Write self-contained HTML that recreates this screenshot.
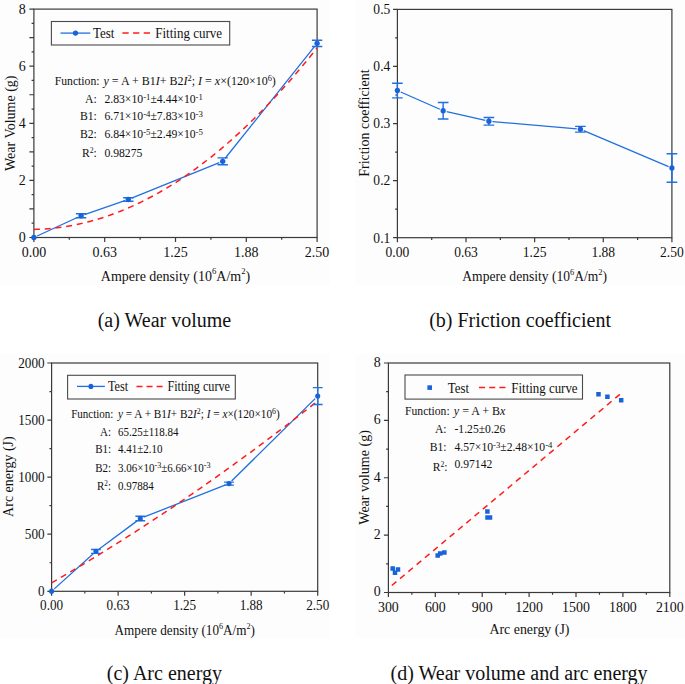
<!DOCTYPE html>
<html><head><meta charset="utf-8"><style>
html,body{margin:0;padding:0;background:#fff;}
body{width:685px;height:684px;overflow:hidden;}
svg{display:block;}
</style></head><body>
<svg width="685" height="684" viewBox="0 0 685 684" font-family="'Liberation Serif', serif" fill="#111">
<rect width="685" height="684" fill="#fff"/>
<path fill="#fdfdfd" d="M0,0H330V284.7H0Z M354.8,0H685V284.7H354.8Z M0,354H330V637.8H0Z M354.8,354H685V637.8H354.8Z"/>
<path d="M33.90,237.50v4.5 M69.30,237.50v2.3 M104.70,237.50v4.5 M140.10,237.50v2.3 M175.50,237.50v4.5 M210.90,237.50v2.3 M246.30,237.50v4.5 M281.70,237.50v2.3 M317.10,237.50v4.5 M33.90,237.50h-4.50 M33.90,223.22h-2.30 M33.90,208.95h-4.50 M33.90,194.68h-2.30 M33.90,180.40h-4.50 M33.90,166.12h-2.30 M33.90,151.85h-4.50 M33.90,137.57h-2.30 M33.90,123.30h-4.50 M33.90,109.03h-2.30 M33.90,94.75h-4.50 M33.90,80.47h-2.30 M33.90,66.20h-4.50 M33.90,51.92h-2.30 M33.90,37.65h-4.50 M33.90,23.38h-2.30 M33.90,9.10h-4.50" stroke="#3a3a3a" stroke-width="1.2" fill="none"/>
<rect x="33.90" y="9.10" width="283.20" height="228.40" stroke="#3a3a3a" stroke-width="1.2" fill="none"/>
<text transform="translate(33.9,256.5)" font-size="14" text-anchor="middle" ><tspan>0.00</tspan></text>
<text transform="translate(104.7,256.5)" font-size="14" text-anchor="middle" ><tspan>0.63</tspan></text>
<text transform="translate(175.5,256.5)" font-size="14" text-anchor="middle" ><tspan>1.25</tspan></text>
<text transform="translate(246.3,256.5)" font-size="14" text-anchor="middle" ><tspan>1.88</tspan></text>
<text transform="translate(317.1,256.5)" font-size="14" text-anchor="middle" ><tspan>2.50</tspan></text>
<text transform="translate(25.7,242.3)" font-size="14" text-anchor="end" ><tspan>0</tspan></text>
<text transform="translate(25.7,185.2)" font-size="14" text-anchor="end" ><tspan>2</tspan></text>
<text transform="translate(25.7,128.1)" font-size="14" text-anchor="end" ><tspan>4</tspan></text>
<text transform="translate(25.7,71)" font-size="14" text-anchor="end" ><tspan>6</tspan></text>
<text transform="translate(25.7,13.9)" font-size="14" text-anchor="end" ><tspan>8</tspan></text>
<path d="M37.17,235.99L77.83,217.25 M84.51,214.58L124.89,200.70 M131.64,198.18L219.36,162.68 M224.95,158.52L314.85,46.17" stroke="#2070e0" stroke-width="1.3" fill="none"/>
<polyline points="33.90,229.42 36.73,229.35 39.56,229.24 42.40,229.09 45.23,228.91 48.06,228.69 50.89,228.44 53.72,228.16 56.56,227.84 59.39,227.48 62.22,227.09 65.05,226.66 67.88,226.20 70.72,225.70 73.55,225.17 76.38,224.60 79.21,224.00 82.04,223.36 84.88,222.69 87.71,221.98 90.54,221.24 93.37,220.46 96.20,219.65 99.04,218.80 101.87,217.92 104.70,217.00 107.53,216.05 110.36,215.06 113.20,214.03 116.03,212.97 118.86,211.88 121.69,210.75 124.52,209.58 127.36,208.38 130.19,207.15 133.02,205.88 135.85,204.57 138.68,203.23 141.52,201.86 144.35,200.45 147.18,199.00 150.01,197.52 152.84,196.00 155.68,194.45 158.51,192.87 161.34,191.24 164.17,189.59 167.00,187.90 169.84,186.17 172.67,184.41 175.50,182.61 178.33,180.78 181.16,178.91 184.00,177.01 186.83,175.07 189.66,173.09 192.49,171.09 195.32,169.04 198.16,166.96 200.99,164.85 203.82,162.70 206.65,160.52 209.48,158.30 212.32,156.04 215.15,153.75 217.98,151.43 220.81,149.07 223.64,146.67 226.48,144.24 229.31,141.78 232.14,139.28 234.97,136.74 237.80,134.17 240.64,131.57 243.47,128.92 246.30,126.25 249.13,123.54 251.96,120.79 254.80,118.01 257.63,115.19 260.46,112.34 263.29,109.45 266.12,106.53 268.96,103.57 271.79,100.58 274.62,97.55 277.45,94.49 280.28,91.39 283.12,88.26 285.95,85.09 288.78,81.89 291.61,78.65 294.44,75.37 297.28,72.07 300.11,68.72 302.94,65.34 305.77,61.93 308.60,58.48 311.44,54.99 314.27,51.47 317.10,47.92" stroke="#ff1c1c" stroke-width="1.5" fill="none" stroke-dasharray="6,4.8"/>
<path d="M81.10,213.75V217.74M75.90,213.75h10.40M75.90,217.74h10.40 M128.30,197.82V201.24M123.10,197.82h10.40M123.10,201.24h10.40 M222.70,157.90V164.75M217.50,157.90h10.40M217.50,164.75h10.40 M317.10,40.22V46.50M311.90,40.22h10.40M311.90,46.50h10.40" stroke="#2070e0" stroke-width="1.4" fill="none"/>
<ellipse cx="33.90" cy="237.50" rx="2.70" ry="2.70" fill="#1a62d9"/>
<ellipse cx="81.10" cy="215.74" rx="2.70" ry="2.70" fill="#1a62d9"/>
<ellipse cx="128.30" cy="199.53" rx="2.70" ry="2.70" fill="#1a62d9"/>
<ellipse cx="222.70" cy="161.33" rx="2.70" ry="2.70" fill="#1a62d9"/>
<ellipse cx="317.10" cy="43.36" rx="2.70" ry="2.70" fill="#1a62d9"/>
<path d="M397.40,237.70v4.5 M431.71,237.70v2.3 M466.02,237.70v4.5 M500.34,237.70v2.3 M534.65,237.70v4.5 M568.96,237.70v2.3 M603.27,237.70v4.5 M637.59,237.70v2.3 M671.90,237.70v4.5 M397.40,237.70h-4.36 M397.40,209.16h-2.23 M397.40,180.62h-4.36 M397.40,152.09h-2.23 M397.40,123.55h-4.36 M397.40,95.01h-2.23 M397.40,66.47h-4.36 M397.40,37.94h-2.23 M397.40,9.40h-4.36" stroke="#3a3a3a" stroke-width="1.2" fill="none"/>
<rect x="397.40" y="9.40" width="274.50" height="228.30" stroke="#3a3a3a" stroke-width="1.2" fill="none"/>
<text transform="translate(397.4,256.7) scale(0.9693,1)" font-size="14" text-anchor="middle" ><tspan>0.00</tspan></text>
<text transform="translate(466.02,256.7) scale(0.9693,1)" font-size="14" text-anchor="middle" ><tspan>0.63</tspan></text>
<text transform="translate(534.65,256.7) scale(0.9693,1)" font-size="14" text-anchor="middle" ><tspan>1.25</tspan></text>
<text transform="translate(603.27,256.7) scale(0.9693,1)" font-size="14" text-anchor="middle" ><tspan>1.88</tspan></text>
<text transform="translate(671.9,256.7) scale(0.9693,1)" font-size="14" text-anchor="middle" ><tspan>2.50</tspan></text>
<text transform="translate(390.32,242.5) scale(0.9693,1)" font-size="14" text-anchor="end" ><tspan>0.1</tspan></text>
<text transform="translate(390.32,185.43) scale(0.9693,1)" font-size="14" text-anchor="end" ><tspan>0.2</tspan></text>
<text transform="translate(390.32,128.35) scale(0.9693,1)" font-size="14" text-anchor="end" ><tspan>0.3</tspan></text>
<text transform="translate(390.32,71.27) scale(0.9693,1)" font-size="14" text-anchor="end" ><tspan>0.4</tspan></text>
<text transform="translate(390.32,14.2) scale(0.9693,1)" font-size="14" text-anchor="end" ><tspan>0.5</tspan></text>
<path d="M397.40,83.26V97.87M392.07,83.26h10.66M392.07,97.87h10.66 M443.15,102.43V118.98M437.82,102.43h10.66M437.82,118.98h10.66 M488.90,117.44V125.09M483.57,117.44h10.66M483.57,125.09h10.66 M580.40,126.40V132.11M575.07,126.40h10.66M575.07,132.11h10.66 M671.90,153.74V182.28M666.57,153.74h10.66M666.57,182.28h10.66" stroke="#2070e0" stroke-width="1.4" fill="none"/>
<path d="M400.69,92.01L439.86,109.26 M446.66,111.52L485.39,120.46 M492.49,121.58L576.81,128.94 M583.72,130.66L668.59,166.61" stroke="#2070e0" stroke-width="1.3" fill="none"/>
<ellipse cx="397.40" cy="90.56" rx="2.62" ry="2.70" fill="#1a62d9"/>
<ellipse cx="443.15" cy="110.71" rx="2.62" ry="2.70" fill="#1a62d9"/>
<ellipse cx="488.90" cy="121.27" rx="2.62" ry="2.70" fill="#1a62d9"/>
<ellipse cx="580.40" cy="129.26" rx="2.62" ry="2.70" fill="#1a62d9"/>
<ellipse cx="671.90" cy="168.01" rx="2.62" ry="2.70" fill="#1a62d9"/>
<path d="M51.60,591.30v4.5 M84.86,591.30v2.3 M118.12,591.30v4.5 M151.39,591.30v2.3 M184.65,591.30v4.5 M217.91,591.30v2.3 M251.17,591.30v4.5 M284.44,591.30v2.3 M317.70,591.30v4.5 M51.60,591.30h-4.23 M51.60,562.76h-2.16 M51.60,534.22h-4.23 M51.60,505.69h-2.16 M51.60,477.15h-4.23 M51.60,448.61h-2.16 M51.60,420.07h-4.23 M51.60,391.54h-2.16 M51.60,363.00h-4.23" stroke="#3a3a3a" stroke-width="1.2" fill="none"/>
<rect x="51.60" y="363.00" width="266.10" height="228.30" stroke="#3a3a3a" stroke-width="1.2" fill="none"/>
<text transform="translate(51.6,610.3) scale(0.9396,1)" font-size="14" text-anchor="middle" ><tspan>0.00</tspan></text>
<text transform="translate(118.12,610.3) scale(0.9396,1)" font-size="14" text-anchor="middle" ><tspan>0.63</tspan></text>
<text transform="translate(184.65,610.3) scale(0.9396,1)" font-size="14" text-anchor="middle" ><tspan>1.25</tspan></text>
<text transform="translate(251.17,610.3) scale(0.9396,1)" font-size="14" text-anchor="middle" ><tspan>1.88</tspan></text>
<text transform="translate(317.7,610.3) scale(0.9396,1)" font-size="14" text-anchor="middle" ><tspan>2.50</tspan></text>
<text transform="translate(44.55,596.1) scale(0.9396,1)" font-size="14" text-anchor="end" ><tspan>0</tspan></text>
<text transform="translate(44.55,539.02) scale(0.9396,1)" font-size="14" text-anchor="end" ><tspan>500</tspan></text>
<text transform="translate(44.55,481.95) scale(0.9396,1)" font-size="14" text-anchor="end" ><tspan>1000</tspan></text>
<text transform="translate(44.55,424.88) scale(0.9396,1)" font-size="14" text-anchor="end" ><tspan>1500</tspan></text>
<text transform="translate(44.55,367.8) scale(0.9396,1)" font-size="14" text-anchor="end" ><tspan>2000</tspan></text>
<path d="M54.28,588.89L93.27,553.81 M98.84,549.26L137.41,520.64 M143.65,517.18L225.65,484.92 M231.56,481.07L315.14,398.63" stroke="#2070e0" stroke-width="1.3" fill="none"/>
<polyline points="51.60,582.86 54.26,581.32 56.92,579.78 59.58,578.23 62.24,576.67 64.91,575.11 67.57,573.55 70.23,571.98 72.89,570.40 75.55,568.82 78.21,567.23 80.87,565.64 83.53,564.04 86.19,562.43 88.85,560.82 91.51,559.20 94.18,557.58 96.84,555.95 99.50,554.32 102.16,552.68 104.82,551.04 107.48,549.39 110.14,547.73 112.80,546.07 115.46,544.40 118.12,542.73 120.79,541.05 123.45,539.36 126.11,537.67 128.77,535.98 131.43,534.27 134.09,532.57 136.75,530.85 139.41,529.13 142.07,527.41 144.73,525.68 147.40,523.94 150.06,522.20 152.72,520.45 155.38,518.70 158.04,516.94 160.70,515.18 163.36,513.41 166.02,511.63 168.68,509.85 171.34,508.06 174.01,506.27 176.67,504.47 179.33,502.67 181.99,500.86 184.65,499.04 187.31,497.22 189.97,495.39 192.63,493.56 195.29,491.72 197.95,489.88 200.62,488.03 203.28,486.17 205.94,484.31 208.60,482.44 211.26,480.57 213.92,478.69 216.58,476.81 219.24,474.92 221.90,473.02 224.56,471.12 227.23,469.22 229.89,467.30 232.55,465.38 235.21,463.46 237.87,461.53 240.53,459.60 243.19,457.66 245.85,455.71 248.51,453.76 251.17,451.80 253.84,449.83 256.50,447.87 259.16,445.89 261.82,443.91 264.48,441.92 267.14,439.93 269.80,437.93 272.46,435.93 275.12,433.92 277.78,431.91 280.45,429.89 283.11,427.86 285.77,425.83 288.43,423.79 291.09,421.75 293.75,419.70 296.41,417.64 299.07,415.58 301.73,413.52 304.39,411.44 307.06,409.37 309.72,407.28 312.38,405.19 315.04,403.10 317.70,401.00" stroke="#ff1c1c" stroke-width="1.5" fill="none" stroke-dasharray="6,4.8"/>
<path d="M95.95,549.46V553.35M91.06,549.46h9.77M91.06,553.35h9.77 M140.30,516.21V520.78M135.41,516.21h9.77M135.41,520.78h9.77 M229.00,482.12V485.08M224.11,482.12h9.77M224.11,485.08h9.77 M317.70,387.66V404.55M312.81,387.66h9.77M312.81,404.55h9.77" stroke="#2070e0" stroke-width="1.4" fill="none"/>
<ellipse cx="51.60" cy="591.30" rx="2.54" ry="2.70" fill="#1a62d9"/>
<ellipse cx="95.95" cy="551.40" rx="2.54" ry="2.70" fill="#1a62d9"/>
<ellipse cx="140.30" cy="518.50" rx="2.54" ry="2.70" fill="#1a62d9"/>
<ellipse cx="229.00" cy="483.60" rx="2.54" ry="2.70" fill="#1a62d9"/>
<ellipse cx="317.70" cy="396.10" rx="2.54" ry="2.70" fill="#1a62d9"/>
<path d="M388.40,592.50v4.5 M411.85,592.50v2.3 M435.30,592.50v4.5 M458.75,592.50v2.3 M482.20,592.50v4.5 M505.65,592.50v2.3 M529.10,592.50v4.5 M552.55,592.50v2.3 M576.00,592.50v4.5 M599.45,592.50v2.3 M622.90,592.50v4.5 M646.35,592.50v2.3 M669.80,592.50v4.5 M388.40,592.50h-4.47 M388.40,563.81h-2.29 M388.40,535.12h-4.47 M388.40,506.44h-2.29 M388.40,477.75h-4.47 M388.40,449.06h-2.29 M388.40,420.38h-4.47 M388.40,391.69h-2.29 M388.40,363.00h-4.47" stroke="#3a3a3a" stroke-width="1.2" fill="none"/>
<rect x="388.40" y="363.00" width="281.40" height="229.50" stroke="#3a3a3a" stroke-width="1.2" fill="none"/>
<text transform="translate(388.4,611.5) scale(0.9936,1)" font-size="14" text-anchor="middle" ><tspan>300</tspan></text>
<text transform="translate(435.3,611.5) scale(0.9936,1)" font-size="14" text-anchor="middle" ><tspan>600</tspan></text>
<text transform="translate(482.2,611.5) scale(0.9936,1)" font-size="14" text-anchor="middle" ><tspan>900</tspan></text>
<text transform="translate(529.1,611.5) scale(0.9936,1)" font-size="14" text-anchor="middle" ><tspan>1200</tspan></text>
<text transform="translate(576,611.5) scale(0.9936,1)" font-size="14" text-anchor="middle" ><tspan>1500</tspan></text>
<text transform="translate(622.9,611.5) scale(0.9936,1)" font-size="14" text-anchor="middle" ><tspan>1800</tspan></text>
<text transform="translate(669.8,611.5) scale(0.9936,1)" font-size="14" text-anchor="middle" ><tspan>2100</tspan></text>
<text transform="translate(380.75,596.3) scale(0.9936,1)" font-size="14" text-anchor="end" ><tspan>0</tspan></text>
<text transform="translate(380.75,538.92) scale(0.9936,1)" font-size="14" text-anchor="end" ><tspan>2</tspan></text>
<text transform="translate(380.75,481.55) scale(0.9936,1)" font-size="14" text-anchor="end" ><tspan>4</tspan></text>
<text transform="translate(380.75,424.18) scale(0.9936,1)" font-size="14" text-anchor="end" ><tspan>6</tspan></text>
<text transform="translate(380.75,366.8) scale(0.9936,1)" font-size="14" text-anchor="end" ><tspan>8</tspan></text>
<path d="M391.8,585.5L621.0,393.4" stroke="#ff1c1c" stroke-width="1.5" fill="none" stroke-dasharray="6,4.8"/>
<path fill="#1a62d9" d="M390.45,566.25h4.5v4.5h-4.5z M392.75,570.45h4.5v4.5h-4.5z M395.75,567.35h4.5v4.5h-4.5z M435.45,553.25h4.5v4.5h-4.5z M437.95,551.25h4.5v4.5h-4.5z M442.15,550.25h4.5v4.5h-4.5z M485.15,509.25h4.5v4.5h-4.5z M485.25,515.35h4.5v4.5h-4.5z M487.75,515.35h4.5v4.5h-4.5z M596.25,392.05h4.5v4.5h-4.5z M605.15,394.55h4.5v4.5h-4.5z M618.95,398.05h4.5v4.5h-4.5z"/>
<rect x="51.40" y="21.50" width="178.30" height="23.50" stroke="#4a4a4a" stroke-width="1.1" fill="none"/>
<path d="M60.50,33.10H90.30" stroke="#2070e0" stroke-width="1.3"/>
<ellipse cx="75.50" cy="33.10" rx="2.60" ry="2.6" fill="#1a62d9"/>
<text transform="translate(93,37.5) scale(0.9550,1)" font-size="13.6" text-anchor="start" ><tspan>Test</tspan></text>
<path d="M122.40,33.10h6.30 M133.05,33.10h6.30 M143.70,33.10h6.30" stroke="#ff1c1c" stroke-width="1.5"/>
<text transform="translate(155.3,37.5) scale(0.9550,1)" font-size="13.6" text-anchor="start" ><tspan>Fitting curve</tspan></text>
<rect x="67.60" y="375.30" width="167.70" height="23.70" stroke="#4a4a4a" stroke-width="1.1" fill="none"/>
<path d="M77.00,386.40H104.90" stroke="#2070e0" stroke-width="1.3"/>
<ellipse cx="90.90" cy="386.40" rx="2.44" ry="2.6" fill="#1a62d9"/>
<text transform="translate(108,390.8) scale(0.8973,1)" font-size="13.6" text-anchor="start" ><tspan>Test</tspan></text>
<path d="M136.50,386.40h5.96 M146.57,386.40h5.96 M156.64,386.40h5.96" stroke="#ff1c1c" stroke-width="1.5"/>
<text transform="translate(167.4,390.8) scale(0.8973,1)" font-size="13.6" text-anchor="start" ><tspan>Fitting curve</tspan></text>
<rect x="405.00" y="375.00" width="177.50" height="24.10" stroke="#4a4a4a" stroke-width="1.1" fill="none"/>
<rect x="427.40" y="385.30" width="4.6" height="4.6" fill="#1a62d9"/>
<text transform="translate(447.8,392.8) scale(0.9489,1)" font-size="13.6" text-anchor="start" ><tspan>Test</tspan></text>
<path d="M479.00,387.60h6.03 M489.19,387.60h6.03 M499.37,387.60h6.03" stroke="#ff1c1c" stroke-width="1.5"/>
<text transform="translate(511.3,392.8) scale(0.9489,1)" font-size="13.6" text-anchor="start" ><tspan>Fitting curve</tspan></text>
<text transform="translate(54.7,84.8)" font-size="11.7" text-anchor="start" ><tspan>Function:</tspan></text>
<text transform="translate(103.5,84.8)" font-size="12" text-anchor="start" ><tspan font-style="italic">y</tspan><tspan> = A + B1</tspan><tspan font-style="italic">I</tspan><tspan>+ B2</tspan><tspan font-style="italic">I</tspan><tspan dy="-4.20" font-size="8.40">2</tspan><tspan dy="4.20">; </tspan><tspan font-style="italic">I</tspan><tspan> = </tspan><tspan font-style="italic">x</tspan><tspan>×(120×10</tspan><tspan dy="-4.20" font-size="8.40">6</tspan><tspan dy="4.20">)</tspan></text>
<text transform="translate(96.8,102.9)" font-size="11.7" text-anchor="end" ><tspan>A:</tspan></text>
<text transform="translate(104.4,102.9)" font-size="11.7" text-anchor="start" ><tspan>2.83×10</tspan><tspan dy="-3.16" font-size="8.77">-1</tspan><tspan dy="3.16">±4.44×10</tspan><tspan dy="-3.16" font-size="8.77">-1</tspan><tspan dy="3.16">​</tspan></text>
<text transform="translate(96.8,120.2)" font-size="11.7" text-anchor="end" ><tspan>B1:</tspan></text>
<text transform="translate(104.4,120.2)" font-size="11.7" text-anchor="start" ><tspan>6.71×10</tspan><tspan dy="-3.16" font-size="8.77">-4</tspan><tspan dy="3.16">±7.83×10</tspan><tspan dy="-3.16" font-size="8.77">-3</tspan><tspan dy="3.16">​</tspan></text>
<text transform="translate(96.8,138.4)" font-size="11.7" text-anchor="end" ><tspan>B2:</tspan></text>
<text transform="translate(104.4,138.4)" font-size="11.7" text-anchor="start" ><tspan>6.84×10</tspan><tspan dy="-3.16" font-size="8.77">-5</tspan><tspan dy="3.16">±2.49×10</tspan><tspan dy="-3.16" font-size="8.77">-5</tspan><tspan dy="3.16">​</tspan></text>
<text transform="translate(96.8,156.5)" font-size="11.7" text-anchor="end" ><tspan>R</tspan><tspan dy="-3.74" font-size="7.72">2</tspan><tspan dy="3.74">:</tspan></text>
<text transform="translate(104.4,156.5)" font-size="11.7" text-anchor="start" ><tspan>0.98275</tspan></text>
<text transform="translate(71.2,418.1) scale(0.9396,1)" font-size="11.7" text-anchor="start" ><tspan>Function:</tspan></text>
<text transform="translate(118,418.1) scale(0.9396,1)" font-size="12" text-anchor="start" ><tspan font-style="italic">y</tspan><tspan> = A + B1</tspan><tspan font-style="italic">I</tspan><tspan>+ B2</tspan><tspan font-style="italic">I</tspan><tspan dy="-4.20" font-size="8.40">2</tspan><tspan dy="4.20">; </tspan><tspan font-style="italic">I</tspan><tspan> = </tspan><tspan font-style="italic">x</tspan><tspan>×(120×10</tspan><tspan dy="-4.20" font-size="8.40">6</tspan><tspan dy="4.20">)</tspan></text>
<text transform="translate(111,435.7) scale(0.9396,1)" font-size="11.7" text-anchor="end" ><tspan>A:</tspan></text>
<text transform="translate(118,435.7) scale(0.9396,1)" font-size="11.7" text-anchor="start" ><tspan>65.25±118.84</tspan></text>
<text transform="translate(111,453.2) scale(0.9396,1)" font-size="11.7" text-anchor="end" ><tspan>B1:</tspan></text>
<text transform="translate(118,453.2) scale(0.9396,1)" font-size="11.7" text-anchor="start" ><tspan>4.41±2.10</tspan></text>
<text transform="translate(111,471.6) scale(0.9396,1)" font-size="11.7" text-anchor="end" ><tspan>B2:</tspan></text>
<text transform="translate(118,471.6) scale(0.9396,1)" font-size="11.7" text-anchor="start" ><tspan>3.06×10</tspan><tspan dy="-3.16" font-size="8.77">-3</tspan><tspan dy="3.16">±6.66×10</tspan><tspan dy="-3.16" font-size="8.77">-3</tspan><tspan dy="3.16">​</tspan></text>
<text transform="translate(111,490) scale(0.9396,1)" font-size="11.7" text-anchor="end" ><tspan>R</tspan><tspan dy="-3.74" font-size="7.72">2</tspan><tspan dy="3.74">:</tspan></text>
<text transform="translate(118,490) scale(0.9396,1)" font-size="11.7" text-anchor="start" ><tspan>0.97884</tspan></text>
<text transform="translate(405.1,415) scale(0.9936,1)" font-size="11.7" text-anchor="start" ><tspan>Function:</tspan></text>
<text transform="translate(453.8,415.3) scale(0.9936,1)" font-size="12.1" text-anchor="start" ><tspan font-style="italic">y</tspan><tspan> = A + B</tspan><tspan font-style="italic">x</tspan></text>
<text transform="translate(446.6,433) scale(0.9936,1)" font-size="11.7" text-anchor="end" ><tspan>A:</tspan></text>
<text transform="translate(454.5,433) scale(0.9936,1)" font-size="11.7" text-anchor="start" ><tspan>-1.25±0.26</tspan></text>
<text transform="translate(446.6,451) scale(0.9936,1)" font-size="11.7" text-anchor="end" ><tspan>B1:</tspan></text>
<text transform="translate(454.5,451) scale(0.9936,1)" font-size="11.7" text-anchor="start" ><tspan>4.57×10</tspan><tspan dy="-3.16" font-size="8.77">-3</tspan><tspan dy="3.16">±2.48×10</tspan><tspan dy="-3.16" font-size="8.77">-4</tspan><tspan dy="3.16">​</tspan></text>
<text transform="translate(447.6,470.8) scale(0.9936,1)" font-size="11.7" text-anchor="end" ><tspan>R</tspan><tspan dy="-3.74" font-size="7.72">2</tspan><tspan dy="3.74">:</tspan></text>
<text transform="translate(454.5,468.2) scale(0.9936,1)" font-size="11.7" text-anchor="start" ><tspan>0.97142</tspan></text>
<text transform="translate(175.5,280.7)" font-size="14" text-anchor="middle" ><tspan>Ampere density (10</tspan><tspan dy="-6.30" font-size="8.68">6</tspan><tspan dy="6.30">A/m</tspan><tspan dy="-6.30" font-size="8.68">2</tspan><tspan dy="6.30">)</tspan></text>
<text transform="translate(534.65,281) scale(0.9693,1)" font-size="14" text-anchor="middle" ><tspan>Ampere density (10</tspan><tspan dy="-6.30" font-size="8.68">6</tspan><tspan dy="6.30">A/m</tspan><tspan dy="-6.30" font-size="8.68">2</tspan><tspan dy="6.30">)</tspan></text>
<text transform="translate(184.75,634.9) scale(0.9396,1)" font-size="14" text-anchor="middle" ><tspan>Ampere density (10</tspan><tspan dy="-6.30" font-size="8.68">6</tspan><tspan dy="6.30">A/m</tspan><tspan dy="-6.30" font-size="8.68">2</tspan><tspan dy="6.30">)</tspan></text>
<text transform="translate(529.45,634.25) scale(0.9936,1)" font-size="14" text-anchor="middle" ><tspan>Arc energy (J)</tspan></text>
<text transform="translate(15.2,123.25) rotate(-90)" font-size="14" text-anchor="middle" ><tspan>Wear Volume (g)</tspan></text>
<text transform="translate(368.6,123.1) rotate(-90)" font-size="14" text-anchor="middle" ><tspan>Friction coefficient</tspan></text>
<text transform="translate(13.2,476.6) rotate(-90)" font-size="14" text-anchor="middle" ><tspan>Arc energy (J)</tspan></text>
<text transform="translate(369.2,477.45) rotate(-90)" font-size="14" text-anchor="middle" ><tspan>Wear volume (g)</tspan></text>
<text transform="translate(164.4,326.9)" font-size="20" text-anchor="middle" ><tspan>(a) Wear volume</tspan></text>
<text transform="translate(520.05,326.8)" font-size="20" text-anchor="middle" ><tspan>(b) Friction coefficient</tspan></text>
<text transform="translate(164.4,680.4)" font-size="20" text-anchor="middle" ><tspan>(c) Arc energy</tspan></text>
<text transform="translate(519.1,679.8)" font-size="20" text-anchor="middle" ><tspan>(d) Wear volume and arc energy</tspan></text>
</svg>
</body></html>
